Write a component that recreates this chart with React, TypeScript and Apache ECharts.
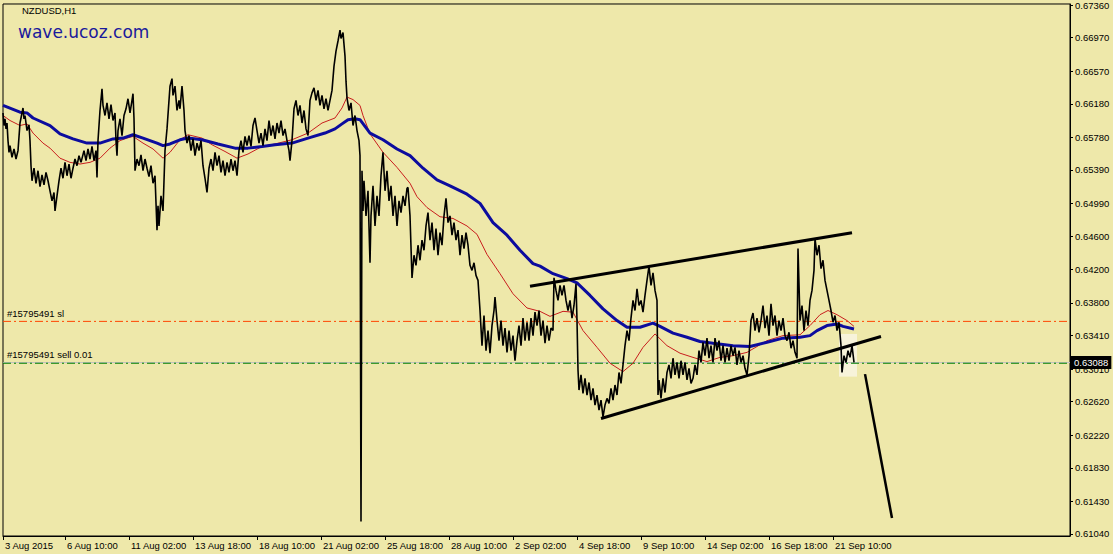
import React, { useEffect, useRef } from "react";
import * as echarts from "echarts";

// ---- data (bar index on x, price on y) ----
const xTickBars = [3, 65, 129, 193, 257, 321, 385, 449, 513, 577, 641, 705, 769, 833];
const xTickLabels = ["3 Aug 2015", "6 Aug 10:00", "11 Aug 02:00", "13 Aug 18:00", "18 Aug 10:00", "21 Aug 02:00", "25 Aug 18:00", "28 Aug 10:00", "2 Sep 02:00", "4 Sep 18:00", "9 Sep 10:00", "14 Sep 02:00", "16 Sep 18:00", "21 Sep 10:00"];
const yTickValues = [0.6104, 0.6143, 0.6183, 0.6222, 0.6262, 0.6301, 0.6341, 0.638, 0.642, 0.646, 0.6499, 0.6539, 0.6578, 0.6618, 0.6657, 0.6697, 0.6736];

const priceTrace: [number, number][] = [
  [3,0.6607],[4,0.6592],[5,0.6600],[6,0.6588],[7,0.6595],[8,0.6574],[9,0.6560],[10,0.6568],[12,0.6554],[14,0.6564],[16,0.6552],[18,0.6562],[20,0.6595],[22,0.6607],[23,0.6613],[24,0.6600],[25,0.6604],[27,0.6586],[29,0.6593],[30,0.6574],[31,0.6544],[32,0.6526],[34,0.6541],[36,0.6523],[38,0.6538],[40,0.6519],[42,0.6533],[44,0.6521],[46,0.6536],[48,0.6526],[50,0.6514],[52,0.6502],[54,0.6512],[55,0.6490],[57,0.6508],[59,0.6526],[61,0.6541],[63,0.6529],[65,0.6548],[67,0.6532],[69,0.6546],[71,0.6529],[73,0.6541],[75,0.6552],[77,0.6544],[79,0.6556],[81,0.6548],[84,0.6562],[86,0.6550],[88,0.6564],[90,0.6552],[92,0.6567],[94,0.6550],[96,0.6562],[97,0.6530],[98,0.6574],[100,0.6610],[102,0.6636],[103,0.6616],[105,0.6604],[107,0.6619],[109,0.6600],[111,0.6617],[113,0.6598],[115,0.6607],[116,0.6574],[117,0.6556],[118,0.6586],[120,0.6600],[122,0.6580],[124,0.6604],[126,0.6612],[128,0.6624],[130,0.6607],[132,0.6622],[133,0.6630],[134,0.6600],[135,0.6538],[137,0.6552],[139,0.6544],[141,0.6557],[143,0.6538],[145,0.6552],[147,0.6541],[149,0.6531],[151,0.6544],[153,0.6523],[155,0.6532],[157,0.6467],[158,0.6496],[159,0.6472],[161,0.6508],[163,0.6490],[165,0.6562],[167,0.6588],[169,0.6622],[170,0.6639],[172,0.6648],[173,0.6628],[175,0.6639],[177,0.6610],[179,0.6622],[180,0.6612],
  [182,0.6639],[184,0.6610],[185,0.6586],[187,0.6571],[189,0.6580],[191,0.6562],[193,0.6576],[195,0.6556],[197,0.6571],[199,0.6562],[201,0.6574],[203,0.6544],[205,0.6529],[207,0.6512],[209,0.6541],[211,0.6552],[213,0.6538],[215,0.6560],[217,0.6544],[219,0.6556],[221,0.6536],[223,0.6550],[225,0.6532],[227,0.6548],[229,0.6536],[231,0.6552],[233,0.6538],[235,0.6550],[237,0.6532],[239,0.6562],[241,0.6574],[243,0.6560],[245,0.6579],[247,0.6568],[249,0.6580],[251,0.6567],[253,0.6592],[255,0.6601],[257,0.6586],[259,0.6571],[261,0.6583],[263,0.6568],[265,0.6588],[267,0.6574],[269,0.6598],[271,0.6580],[273,0.6592],[275,0.6576],[277,0.6595],[279,0.6583],[281,0.6598],[283,0.6580],[285,0.6588],[287,0.6574],[289,0.6562],[290,0.6550],[292,0.6574],[294,0.6612],[296,0.6622],[298,0.6604],[300,0.6616],[302,0.6595],[304,0.6610],[306,0.6588],[308,0.6580],[310,0.6622],[312,0.6631],[314,0.6637],[316,0.6622],[318,0.6634],[320,0.6616],[322,0.6628],[324,0.6612],[326,0.6624],[328,0.6610],[330,0.6622],[332,0.6634],[334,0.6663],[336,0.6681],[338,0.6693],[340,0.6706],[341,0.6696],[343,0.6703],[345,0.6675],[346,0.6645],[347,0.6625],[349,0.6610],[351,0.6619],[353,0.6592],[355,0.6604],[357,0.6586],[359,0.6574],[360,0.6556],[361,0.6119],
  [362,0.6538],[363,0.6490],[364,0.6526],[366,0.6484],[368,0.6514],[370,0.6428],[371,0.6484],[373,0.6520],[375,0.6472],[377,0.6508],[379,0.6484],[381,0.6532],[383,0.6560],[385,0.6514],[387,0.6538],[389,0.6502],[391,0.6520],[393,0.6484],[395,0.6508],[397,0.6472],[399,0.6502],[401,0.6488],[403,0.6508],[405,0.6496],[407,0.6517],[408,0.6518],[410,0.6484],[412,0.6410],[414,0.6437],[416,0.6425],[418,0.6449],[420,0.6431],[422,0.6455],[424,0.6443],[426,0.6472],[428,0.6488],[430,0.6455],[432,0.6476],[434,0.6443],[436,0.6469],[438,0.6437],[440,0.6464],[442,0.6449],[444,0.6484],[446,0.6505],[448,0.6476],[450,0.6484],[452,0.6461],[454,0.6476],[456,0.6455],[458,0.6467],[460,0.6437],[462,0.6461],[464,0.6445],[466,0.6464],[468,0.6449],[470,0.6425],[472,0.6419],[474,0.6428],[476,0.6413],[478,0.6407],[480,0.6371],[482,0.6329],[484,0.6365],[486,0.6323],[488,0.6347],[490,0.6320],[492,0.6353],[494,0.6371],[495,0.6387],[497,0.6359],[499,0.6335],[501,0.6359],[503,0.6329],[505,0.6350],[507,0.6321],[509,0.6347],[511,0.6323],[513,0.6341],[515,0.6311],[517,0.6335],[519,0.6353],[521,0.6329],[523,0.6362],[525,0.6335],[527,0.6357],[529,0.6335],[531,0.6362],[533,0.6341],[535,0.6369],[537,0.6353],[539,0.6371],[541,0.6341],[543,0.6359],[545,0.6332],[547,0.6353],[549,0.6335],[551,0.6350],[553,0.6347],[554,0.6410],[556,0.6395],[558,0.6383],[560,0.6401],
  [562,0.6389],[564,0.6401],[566,0.6383],[568,0.6371],[570,0.6383],[572,0.6362],[574,0.6377],[576,0.6403],[577,0.6359],[578,0.6300],[579,0.6276],[581,0.6294],[583,0.6272],[585,0.6290],[587,0.6270],[589,0.6285],[591,0.6264],[593,0.6278],[595,0.6258],[597,0.6270],[599,0.6252],[601,0.6264],[603,0.6244],[605,0.6258],[607,0.6266],[609,0.6260],[611,0.6278],[613,0.6264],[615,0.6282],[617,0.6270],[619,0.6297],[621,0.6284],[623,0.6306],[625,0.6329],[627,0.6347],[629,0.6335],[631,0.6362],[633,0.6383],[635,0.6371],[637,0.6397],[639,0.6377],[641,0.6383],[643,0.6369],[645,0.6389],[647,0.6407],[649,0.6424],[651,0.6401],[653,0.6416],[655,0.6395],[657,0.6383],[658,0.6270],[659,0.6288],[661,0.6266],[663,0.6290],[665,0.6273],[667,0.6297],[669,0.6306],[671,0.6290],[673,0.6314],[675,0.6294],[677,0.6309],[679,0.6290],[681,0.6311],[683,0.6294],[685,0.6309],[687,0.6288],[689,0.6302],[691,0.6284],[693,0.6290],[695,0.6306],[697,0.6294],[699,0.6323],[701,0.6309],[703,0.6333],[705,0.6317],[707,0.6338],[709,0.6314],[711,0.6329],[713,0.6309],[715,0.6338],[717,0.6323],[719,0.6335],
  [721,0.6311],[723,0.6329],[725,0.6309],[727,0.6326],[729,0.6311],[731,0.6329],[733,0.6317],[735,0.6327],[737,0.6306],[739,0.6323],[741,0.6309],[743,0.6317],[745,0.6302],[747,0.6294],[749,0.6317],[751,0.6359],[753,0.6368],[755,0.6347],[757,0.6362],[759,0.6345],[761,0.6359],[763,0.6377],[765,0.6350],[767,0.6365],[769,0.6341],[771,0.6379],[773,0.6353],[775,0.6365],[777,0.6341],[779,0.6359],[781,0.6347],[783,0.6362],[785,0.6341],[787,0.6335],[789,0.6345],[791,0.6326],[793,0.6335],[795,0.6321],[797,0.6314],[798,0.6445],[800,0.6359],[802,0.6377],[804,0.6347],[806,0.6371],[808,0.6353],[810,0.6383],[812,0.6395],[814,0.6419],[815,0.6457],[817,0.6437],[819,0.6449],[821,0.6421],[823,0.6431],[825,0.6407],[827,0.6395],[829,0.6383],[831,0.6371],[833,0.6357],[835,0.6365],[837,0.6347],[839,0.6357],[841,0.6329],[842,0.6297],[844,0.6317],[846,0.6309],[848,0.6323],[850,0.6315],[852,0.6329],[854,0.6309]
];

const maSlow: [number, number][] = [
  [3,0.6616],[20,0.6608],[27,0.6607],[33,0.6601],[50,0.6592],[60,0.6582],[73,0.6576],[87,0.6571],[100,0.6571],[113,0.6576],[123,0.6577],[133,0.6581],[143,0.6577],[157,0.6571],[163,0.6568],[170,0.6570],[180,0.6575],[188,0.6577],[202,0.6575],[218,0.6570],[235,0.6565],[248,0.6565],[262,0.6567],[275,0.6569],[292,0.6571],[308,0.6577],[325,0.6583],[335,0.6588],[342,0.6594],[348,0.6599],[355,0.6600],[360,0.6599],[370,0.6583],[383,0.6575],[397,0.6564],[410,0.6556],[423,0.6541],[437,0.6527],[450,0.6520],[467,0.6510],[480,0.6499],[493,0.6476],[507,0.6461],[520,0.6443],[533,0.6427],[540,0.6424],[553,0.6415],[567,0.6409],[577,0.6404],[590,0.6389],[603,0.6373],[617,0.6359],[627,0.6351],[640,0.6351],[653,0.6356],[660,0.6352],[673,0.6344],[687,0.6339],[700,0.6334],[713,0.6332],[733,0.6329],[750,0.6328],[767,0.6333],[783,0.6338],[800,0.6339],[810,0.6341],[817,0.6347],[827,0.6353],[837,0.6355],[843,0.6352],[854,0.6349]
];

const maFast: [number, number][] = [
  [3,0.6604],[10,0.6598],[20,0.6592],[27,0.6594],[33,0.6583],[43,0.6571],[50,0.6565],[60,0.6553],[70,0.6548],[80,0.6546],[90,0.6548],[100,0.6553],[110,0.6565],[120,0.6574],[127,0.6577],[133,0.6579],[143,0.6571],[153,0.6564],[163,0.6553],[170,0.6560],[180,0.6575],[188,0.6581],[202,0.6577],[212,0.6569],[225,0.6561],[237,0.6553],[248,0.6558],[262,0.6567],[275,0.6570],[292,0.6575],[308,0.6583],[322,0.6595],[335,0.6601],[342,0.6613],[347,0.6626],[353,0.6623],[360,0.6616],[363,0.6604],[370,0.6582],[383,0.6560],[397,0.6542],[410,0.6523],[417,0.6507],[427,0.6494],[440,0.6483],[453,0.6481],[467,0.6472],[477,0.6462],[487,0.6438],[500,0.6415],[513,0.6391],[527,0.6374],[540,0.6370],[550,0.6364],[563,0.6370],[573,0.6369],[583,0.6347],[597,0.6327],[610,0.6308],[623,0.6298],[633,0.6308],[643,0.6327],[655,0.6343],[667,0.6329],[680,0.6320],[693,0.6315],[707,0.6310],[720,0.6315],[733,0.6317],[747,0.6321],[767,0.6335],[783,0.6341],[800,0.6342],[810,0.6353],[820,0.6366],[828,0.6371],[837,0.6366],[847,0.6359],[854,0.6352]
];

const channelUpper: [number, number][] = [[530, 0.6400], [852, 0.6464]];
const channelLower: [number, number][] = [[601, 0.6242], [881, 0.6340]];
const forecastLine: [number, number][] = [[865, 0.6295], [892, 0.6123]];
const highlightBox = [839, 0.6343, 857, 0.6292]; // x0, top, x1, bottom

const slPrice = 0.6358;
const sellPrice = 0.6308;
const bidPrice = 0.63088;
const slLabel = "#15795491 sl";
const sellLabel = "#15795491 sell 0.01";
const symbolTitle = "NZDUSD,H1";
const siteTitle = "wave.ucoz.com";

const X_MIN = 3;
const X_MAX = 1070;
const FONT = "'Liberation Sans', Arial, sans-serif";

function hLine(value: number, color: string, type: any, startLabel: any, endLabel: any, z: number) {
  return {
    type: "line", z, silent: true, symbol: "rect", symbolSize: 0.01, showSymbol: true,
    itemStyle: { color },
    lineStyle: { color, type, width: 1 },
    data: [
      { value: [X_MIN, value], label: startLabel || { show: false } },
      { value: [X_MAX, value], label: endLabel || { show: false } },
    ],
  };
}

export default function App() {
  const ref = useRef<HTMLDivElement>(null);
  useEffect(() => {
    if (!ref.current) return;
    const chart = echarts.init(ref.current, null, { renderer: "svg" });
    const labelMap = new Map<number, string>();
    xTickBars.forEach((b, i) => labelMap.set(b, xTickLabels[i]));
    const dashDot = [8, 3, 2, 3];
    const txt = { fontFamily: FONT, fontSize: 9.5, color: "#000" };
    chart.setOption({
      animation: false,
      backgroundColor: "#EEE8AA",
      title: [
        { text: symbolTitle, left: 17, top: 0, textStyle: { ...txt, fontWeight: "normal" } },
        {
          text: siteTitle, left: 13, top: 18,
          textStyle: {
            fontFamily: "'DejaVu Sans', Verdana, sans-serif", fontSize: 17, fontWeight: "normal", color: "#1a1a9c",
            textShadowColor: "rgba(110,110,140,0.5)", textShadowOffsetX: 2, textShadowOffsetY: 2, textShadowBlur: 0,
          },
        },
      ],
      grid: { left: 3, top: 3, right: 43, bottom: 18, show: true, borderColor: "#000", borderWidth: 1, backgroundColor: "transparent" },
      xAxis: {
        type: "value", min: X_MIN, max: X_MAX,
        axisLine: { show: true, lineStyle: { color: "#000", width: 1 } },
        axisTick: { show: true, customValues: xTickBars, length: 4, lineStyle: { color: "#000" } },
        axisLabel: { ...txt, customValues: xTickBars, formatter: (v: number) => labelMap.get(v) ?? "", align: "left", margin: 4, padding: [0, 0, 0, 2] },
        splitLine: { show: false },
      },
      yAxis: {
        type: "value", position: "right", min: 0.61016, max: 0.67372, scale: true,
        axisLine: { show: true, lineStyle: { color: "#000", width: 1 } },
        axisTick: { show: true, customValues: yTickValues, length: 3, lineStyle: { color: "#000" } },
        axisLabel: { ...txt, customValues: yTickValues, formatter: (v: number) => v.toFixed(5), margin: 5 },
        splitLine: { show: false },
      },
      series: [
        {
          type: "custom", z: 1, silent: true, clip: true,
          data: [highlightBox],
          renderItem: (params: any, api: any) => {
            const p0 = api.coord([api.value(0), api.value(1)]);
            const p1 = api.coord([api.value(2), api.value(3)]);
            return { type: "rect", shape: { x: p0[0], y: p0[1], width: p1[0] - p0[0], height: p1[1] - p0[1] }, style: { fill: "#f7f3da" } };
          },
        },
        hLine(bidPrice, "#c0c0c0", "solid", null,
          { show: true, position: "right", formatter: bidPrice.toFixed(5), backgroundColor: "#000", color: "#fff", fontFamily: FONT, fontSize: 9.5, padding: [2, 3, 1, 3], distance: 1 }, 2),
        hLine(slPrice, "#ff4500", dashDot,
          { ...txt, show: true, position: "right", offset: [0, -8], distance: 4, formatter: slLabel }, null, 2),
        hLine(sellPrice, "#008000", dashDot,
          { ...txt, show: true, position: "right", offset: [0, -9], distance: 4, formatter: sellLabel }, null, 2),
        { type: "line", data: maFast, showSymbol: false, z: 3, silent: true, lineStyle: { color: "#c81e1e", width: 1 } },
        { type: "line", data: maSlow, showSymbol: false, z: 3, silent: true, lineStyle: { color: "#0c0c9e", width: 3 } },
        { type: "line", data: priceTrace, showSymbol: false, z: 4, silent: true, lineStyle: { color: "#000", width: 1.6 } },
        { type: "line", data: channelUpper, showSymbol: false, z: 5, silent: true, lineStyle: { color: "#000", width: 3 } },
        { type: "line", data: channelLower, showSymbol: false, z: 5, silent: true, lineStyle: { color: "#000", width: 3 } },
        { type: "line", data: forecastLine, showSymbol: false, z: 5, silent: true, lineStyle: { color: "#000", width: 2.5 } },
      ],
    });
    return () => chart.dispose();
  }, []);
  return <div ref={ref} style={{ position: "absolute", left: 0, top: 0, width: 1113, height: 554 }} />;
}
